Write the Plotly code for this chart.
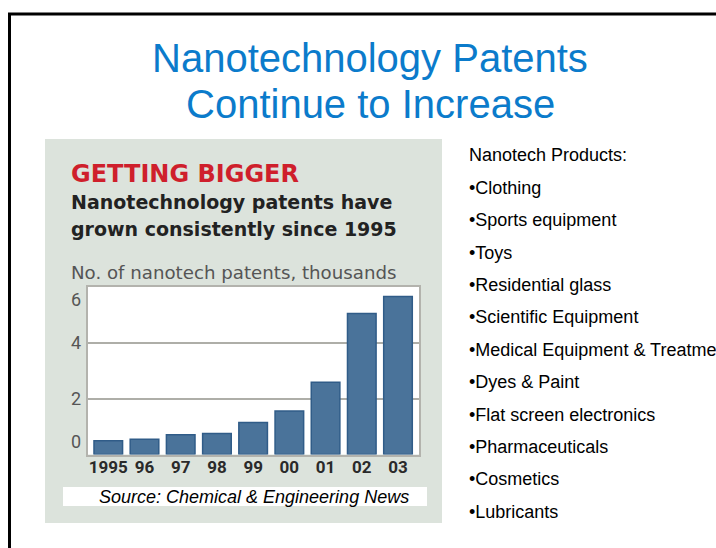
import plotly.graph_objects as go

W, H = 716, 548
OFF = 0  # body margin is reset by the post script

# ---- data ----
years = ["1995", "96", "97", "98", "99", "00", "01", "02", "03"]
patents_thousands = [0.49, 0.55, 0.71, 0.75, 1.15, 1.56, 2.59, 5.05, 5.66]
y_ticks = [0, 2, 4, 6]
y_tick_labels = ["0", "2", "4", "6"]

title_lines = ["Nanotechnology Patents", "Continue to Increase"]
panel_kicker = "GETTING BIGGER"
panel_headline = ["Nanotechnology patents have", "grown consistently since 1995"]
axis_caption = "No. of nanotech patents, thousands"
source_note = "Source: Chemical & Engineering News"
products_header = "Nanotech Products:"
products = [
    "Clothing",
    "Sports equipment",
    "Toys",
    "Residential glass",
    "Scientific Equipment",
    "Medical Equipment & Treatments",
    "Dyes & Paint",
    "Flat screen electronics",
    "Pharmaceuticals",
    "Cosmetics",
    "Lubricants",
]


def px(x):
    return (x - OFF) / W


def py(y):
    return 1 - (y - OFF) / H


def cy(baseline, size, k=0.345):
    return py(baseline - k * size)


fig = go.Figure()
fig.add_trace(
    go.Bar(
        x=list(range(len(years))),
        y=patents_thousands,
        width=0.79,
        marker=dict(color="#4a739a", line=dict(color="#305c88", width=1.5)),
        hoverinfo="skip",
    )
)
# empty companions so the label-only y axes get drawn
for ax in ["y2", "y3", "y4"]:
    fig.add_trace(go.Scatter(x=[], y=[], yaxis=ax, hoverinfo="skip"))

shapes = [
    dict(type="rect", xref="paper", yref="paper", x0=px(9.5), x1=px(740),
         y0=py(14), y1=py(580), line=dict(color="black", width=3),
         fillcolor="rgba(0,0,0,0)", layer="below"),
    dict(type="rect", xref="paper", yref="paper", x0=px(45), x1=px(442),
         y0=py(139), y1=py(523), line=dict(width=0), fillcolor="#dce3dc",
         layer="below"),
    dict(type="rect", xref="paper", yref="paper", x0=px(88), x1=px(419),
         y0=py(287), y1=py(454.5), line=dict(width=0), fillcolor="white",
         layer="below"),
    dict(type="rect", xref="paper", yref="paper", x0=px(63), x1=px(427),
         y0=py(487), y1=py(506), line=dict(width=0), fillcolor="white",
         layer="below"),
]

ann = []
title_font = dict(family="Liberation Sans, Arial, sans-serif", size=40, color="#0B7BCB")
for line, base in zip(title_lines, [71.7, 118]):
    ann.append(dict(text=line, x=px(370), y=cy(base, 40), xanchor="center",
                    yanchor="middle", font=title_font))

ann.append(dict(text="<b>" + panel_kicker + "</b>", x=px(69), y=cy(182.5, 24),
                xanchor="left", yanchor="middle",
                font=dict(family="DejaVu Sans, sans-serif", size=24, color="#cf1f2c")))
for line, base in zip(panel_headline, [209, 235.5]):
    ann.append(dict(text="<b>" + line + "</b>", x=px(69), y=cy(base, 19),
                    xanchor="left", yanchor="middle",
                    font=dict(family="DejaVu Sans, sans-serif", size=19, color="#222222")))
ann.append(dict(text=axis_caption, x=px(69), y=cy(279, 18.2),
                xanchor="left", yanchor="middle",
                font=dict(family="DejaVu Sans, sans-serif", size=18.2, color="#555555")))
ann.append(dict(text="<i>" + source_note + "</i>", x=px(254), y=cy(503.3, 18),
                xanchor="center", yanchor="middle",
                font=dict(family="Liberation Sans, Arial, sans-serif", size=18, color="black")))

list_font = dict(family="Liberation Sans, Arial, sans-serif", size=18, color="black")
ann.append(dict(text=products_header, x=px(467), y=cy(161.7, 18), xanchor="left",
                yanchor="middle", font=list_font))
for i, item in enumerate(products):
    ann.append(dict(text="\u2022" + item, x=px(467), y=cy(194 + i * 32.4, 18),
                    xanchor="left", yanchor="middle", font=list_font))

for a in ann:
    a.update(xref="paper", yref="paper", showarrow=False)

ydom = [py(454.5), py(287)]
ytick_font = dict(family="Roboto, sans-serif", size=18, color="#555555")
common_y = dict(domain=ydom, range=[0, 6], zeroline=False, ticks="",
                fixedrange=True, tickfont=ytick_font, ticklabelstandoff=6)

# label placement per tick: top label sits below its tick, bottom label above
mid_vals = [v for v in y_ticks if v not in (min(y_ticks), max(y_ticks))]
mid_text = [t for v, t in zip(y_ticks, y_tick_labels) if v in mid_vals]
top_text = [t for v, t in zip(y_ticks, y_tick_labels) if v == max(y_ticks)]
bot_text = [t for v, t in zip(y_ticks, y_tick_labels) if v == min(y_ticks)]

fig.update_layout(
    width=W, height=H,
    margin=dict(l=0, r=0, t=0, b=0),
    paper_bgcolor="white",
    plot_bgcolor="rgba(0,0,0,0)",
    showlegend=False,
    shapes=shapes,
    annotations=ann,
    xaxis=dict(
        domain=[px(88), px(419)],
        range=[-0.56, 8.58],
        tickvals=list(range(len(years))),
        ticktext=years,
        showgrid=False,
        zeroline=False,
        showline=True, mirror=True, linecolor="#b3b3ad", linewidth=2,
        ticks="",
        ticklabelstandoff=-4,
        tickfont=dict(family="Roboto, sans-serif", size=17, color="#2a2a2a", weight="bold"),
        fixedrange=True,
    ),
    yaxis=dict(
        **common_y,
        tickvals=y_ticks,
        showticklabels=False,
        showgrid=True, gridcolor="#aeaea8", gridwidth=2,
        showline=True, mirror=True, linecolor="#b3b3ad", linewidth=2,
    ),
    yaxis2=dict(**common_y, overlaying="y", anchor="x", side="left",
                tickvals=mid_vals, ticktext=mid_text, showgrid=False),
    yaxis3=dict(**common_y, overlaying="y", anchor="x", side="left",
                tickvals=[max(y_ticks)], ticktext=top_text, showgrid=False,
                ticklabelposition="outside bottom"),
    yaxis4=dict(**common_y, overlaying="y", anchor="x", side="left",
                tickvals=[min(y_ticks)], ticktext=bot_text, showgrid=False,
                ticklabelposition="outside top"),
)

fig.write_html("out.html", config={"displayModeBar": False},
               post_script="document.body.style.margin='0';")
